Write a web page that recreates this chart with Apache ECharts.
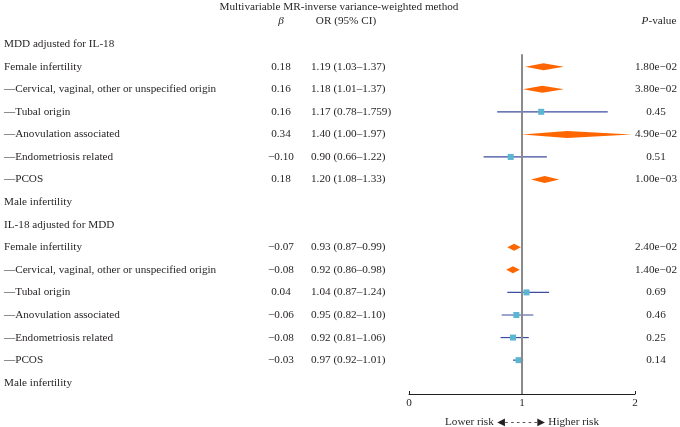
<!DOCTYPE html>
<html>
<head>
<meta charset="utf-8">
<script src="https://cdn.jsdelivr.net/npm/echarts@6/dist/echarts.min.js"></script>
<style>
html,body{margin:0;padding:0;background:#fff;}
#main{width:680px;height:427px;}
</style>
</head>
<body>
<div id="main"></div>
<script>
// rows, top to bottom
var labels = [
  'MDD adjusted for IL-18',
  'Female infertility',
  '—Cervical, vaginal, other or unspecified origin',
  '—Tubal origin',
  '—Anovulation associated',
  '—Endometriosis related',
  '—PCOS',
  'Male infertility',
  'IL-18 adjusted for MDD',
  'Female infertility',
  '—Cervical, vaginal, other or unspecified origin',
  '—Tubal origin',
  '—Anovulation associated',
  '—Endometriosis related',
  '—PCOS',
  'Male infertility'
];
var betaText = ['', '0.18', '0.16', '0.16', '0.34', '−0.10', '0.18', '', '', '−0.07', '−0.08', '0.04', '−0.06', '−0.08', '−0.03', ''];
var orValue = [null, 1.19, 1.18, 1.17, 1.40, 0.90, 1.20, null, null, 0.93, 0.92, 1.04, 0.95, 0.92, 0.97, null];
var ciLow   = [null, 1.03, 1.01, 0.78, 1.00, 0.66, 1.08, null, null, 0.87, 0.86, 0.87, 0.82, 0.81, 0.92, null];
var ciHigh  = [null, 1.37, 1.37, 1.759, 1.97, 1.22, 1.33, null, null, 0.99, 0.98, 1.24, 1.10, 1.06, 1.01, null];
var orText = ['', '1.19 (1.03–1.37)', '1.18 (1.01–1.37)', '1.17 (0.78–1.759)', '1.40 (1.00–1.97)', '0.90 (0.66–1.22)', '1.20 (1.08–1.33)', '', '',
  '0.93 (0.87–0.99)', '0.92 (0.86–0.98)', '1.04 (0.87–1.24)', '0.95 (0.82–1.10)', '0.92 (0.81–1.06)', '0.97 (0.92–1.01)', ''];
var pText = ['', '1.80e−02', '3.80e−02', '0.45', '4.90e−02', '0.51', '1.00e−03', '', '', '2.40e−02', '1.40e−02', '0.69', '0.46', '0.25', '0.14', ''];
var pValue = [null, 0.018, 0.038, 0.45, 0.049, 0.51, 0.001, null, null, 0.024, 0.014, 0.69, 0.46, 0.25, 0.14, null];
var xTicks = [0, 1, 2];

var FONT = '"Liberation Serif", "DejaVu Serif", serif';
var TXT = '#231f20';
var FS = 11.2;

var textData = [];
var markData = [];
for (var i = 0; i < labels.length; i++) {
  textData.push([i, labels[i], betaText[i], orText[i], pText[i]]);
  if (orValue[i] != null) {
    markData.push([orValue[i], i, ciLow[i], ciHigh[i], pValue[i]]);
  }
}

var myChart = echarts.init(document.getElementById('main'));
var option = {
  animation: false,
  title: {
    text: 'Multivariable MR-inverse variance-weighted method',
    left: 339,
    top: 2,
    padding: 0,
    textAlign: 'center',
    textStyle: {fontFamily: FONT, fontSize: FS, fontWeight: 'normal', color: TXT}
  },
  grid: {left: 409, right: 45, top: 21.5, bottom: 33, outerBoundsMode: 'none', containLabel: false},
  xAxis: {
    type: 'value',
    position: 'bottom',
    min: xTicks[0],
    max: xTicks[xTicks.length - 1],
    interval: 1,
    splitLine: {show: false},
    axisLine: {onZero: false, lineStyle: {color: '#231f20', width: 1}},
    axisTick: {inside: true, length: 3, lineStyle: {color: '#231f20'}},
    axisLabel: {fontFamily: FONT, fontSize: FS, color: TXT, margin: 4},
    name: '{t|Lower risk} {a|◀- - - - - -▶} {t|Higher risk}',
    nameLocation: 'middle',
    nameGap: 22,
    nameTextStyle: {
      rich: {
        t: {fontFamily: FONT, fontSize: FS, color: TXT},
        a: {fontFamily: FONT, fontSize: 10, color: TXT}
      }
    }
  },
  yAxis: {
    type: 'value',
    inverse: true,
    min: -1,
    max: 15.5,
    show: false
  },
  series: [
    {
      // text columns
      type: 'custom',
      clip: false,
      data: textData,
      renderItem: function (params, api) {
        var y = api.coord([0, api.value(0)])[1];
        var st = {fontFamily: FONT, fontSize: FS, fill: TXT, textVerticalAlign: 'middle'};
        var idx = params.dataIndex;
        var row = textData[idx];
        var children = [
          {type: 'text', x: 4, y: y, style: Object.assign({text: row[1], textAlign: 'left'}, st)},
          {type: 'text', x: 281, y: y, style: Object.assign({text: row[2], textAlign: 'center'}, st)},
          {type: 'text', x: 311, y: y, style: Object.assign({text: row[3], textAlign: 'left'}, st)},
          {type: 'text', x: 656, y: y, style: Object.assign({text: row[4], textAlign: 'center'}, st)}
        ];
        if (idx === 0) {
          var yh = api.coord([0, -1])[1];
          children.push(
            {type: 'text', x: 281, y: yh, style: Object.assign({text: 'β', textAlign: 'center', fontStyle: 'italic'}, st)},
            {type: 'text', x: 346, y: yh, style: Object.assign({text: 'OR (95% CI)', textAlign: 'center'}, st)},
            {type: 'text', x: 659, y: yh, style: Object.assign({
              text: '{i|P}-value', textAlign: 'center',
              rich: {i: {fontStyle: 'italic', fontFamily: FONT, fontSize: FS, fill: TXT}}
            }, st)}
          );
        }
        return {type: 'group', children: children};
      },
      silent: true
    },
    {
      // forest marks
      type: 'custom',
      data: markData,
      encode: {x: 0, y: 1},
      renderItem: function (params, api) {
        var c = api.coord([api.value(0), api.value(1)]);
        var lo = api.coord([api.value(2), api.value(1)]);
        var hi = api.coord([api.value(3), api.value(1)]);
        if (api.value(4) < 0.05) {
          return {
            type: 'polygon',
            shape: {points: [[lo[0], c[1]], [c[0], c[1] - 3.5], [hi[0], c[1]], [c[0], c[1] + 3.5]]},
            style: {fill: '#ff6600'}
          };
        }
        return {
          type: 'group',
          children: [
            {type: 'line', shape: {x1: lo[0], y1: c[1], x2: hi[0], y2: c[1]}, style: {stroke: '#3d4d9e', lineWidth: 1.2}},
            {type: 'rect', shape: {x: c[0] - 3, y: c[1] - 3, width: 6, height: 6}, style: {fill: '#5bb6d4'}}
          ]
        };
      },
      markLine: {
        silent: true,
        symbol: 'none',
        label: {show: false},
        lineStyle: {color: '#8a8a8a', width: 2, type: 'solid'},
        data: [[{coord: [1, 0.45]}, {coord: [1, 15.5]}]]
      },
      z: 3
    }
  ]
};
myChart.setOption(option);
</script>
</body>
</html>
